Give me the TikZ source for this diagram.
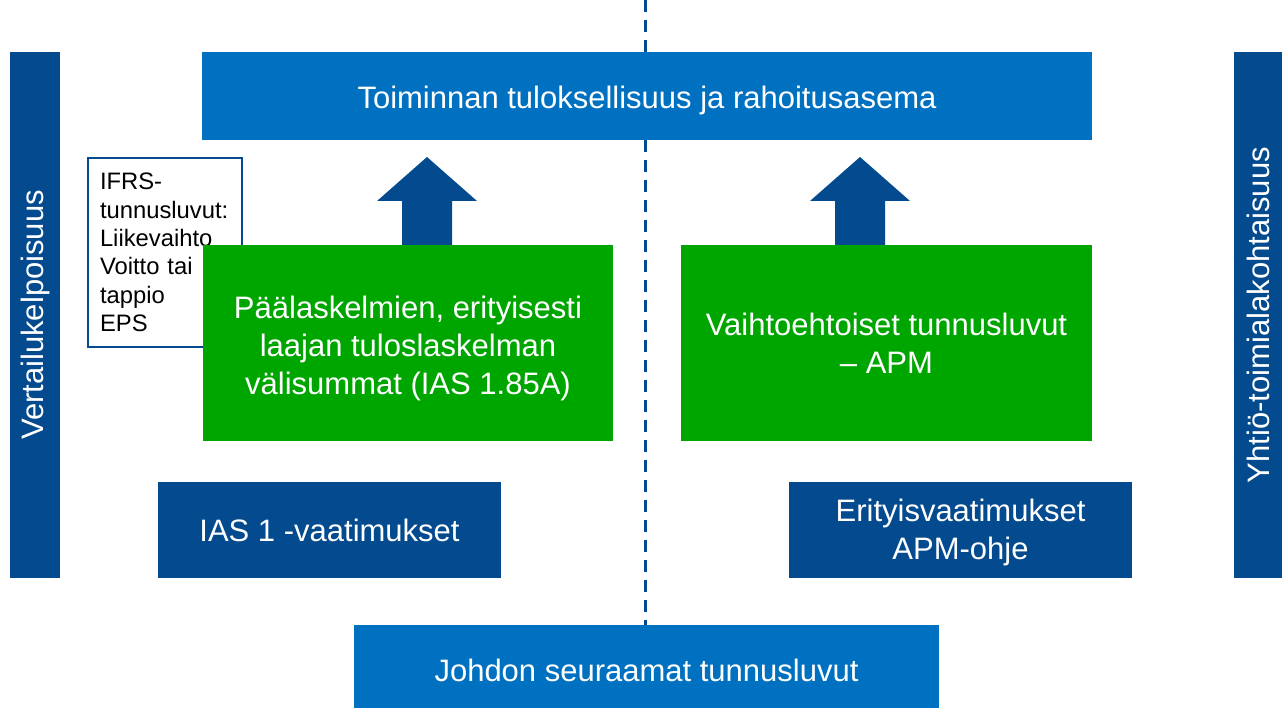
\documentclass[tikz,border=0pt]{standalone}
\usepackage{fontspec}
\setmainfont{Liberation Sans}
\usepackage{xcolor}
\usetikzlibrary{arrows.meta, positioning}

\definecolor{midblue}{HTML}{0070C0}
\definecolor{darkblue}{HTML}{034A8E}
\definecolor{boxgreen}{HTML}{00A600}

\begin{document}
\begin{tikzpicture}[x=1pt, y=-1pt,
  bigtext/.style={font=\fontsize{31}{38}\selectfont},
  panel/.style={inner sep=0pt, text=white, align=center, bigtext},
  oneline/.style={text height=31},
  sidebar/.style={panel, fill=darkblue, minimum width=526, minimum height=50, rotate=90, text height=24},
  ifrsbox/.style={draw=darkblue, line width=2pt, fill=white, align=left,
    text width=130, minimum height=189, inner xsep=12, anchor=north west,
    font=\fontsize{23.8}{28.4}\selectfont}]

  \useasboundingbox (0,0) rectangle (1282,708);

  % 1. Katkoviiva keskellä
  \draw[darkblue, line width=3pt, dash pattern=on 12pt off 8pt] (645,0) -- (645,625);

  % 2. Reunapalkit
  \node[sidebar] (vert) at (35,315) {Vertailukelpoisuus};
  \node[sidebar, minimum height=48] (yht) at (1258,315) {Yhtiö-toimialakohtaisuus};

  % 3. Yläpalkki ja alapalkki
  \node[panel, oneline, fill=midblue, minimum width=890, minimum height=88] (top) at (647,96)
    {Toiminnan tuloksellisuus ja rahoitusasema};
  \node[panel, oneline, fill=midblue, minimum width=585, minimum height=83] (johto) at (646.5,666.5)
    {Johdon seuraamat tunnusluvut};

  % 4. IFRS-laatikko (jää vihreän alle)
  \node[ifrsbox] (ifrs) at (87,157)
    {IFRS-\\tunnusluvut:\\Liikevaihto\\Voitto tai\\tappio\\EPS};

  % 5. Vihreät laatikot
  \node[panel, fill=boxgreen, minimum width=410, minimum height=196, text height=109] (paa) at (408,343)
    {Päälaskelmien, erityisesti\\laajan tuloslaskelman\\välisummat (IAS 1.85A)};
  \node[panel, fill=boxgreen, minimum width=411, minimum height=196] (apm) at (886.5,343)
    {Vaihtoehtoiset tunnusluvut\\– APM};

  % 6. Nuolet ylöspäin
  \fill[darkblue] (402,245) -- (402,201) -- (377,201) -- (427,157) -- (477,201)
    -- (452,201) -- (452,245) -- cycle;
  \fill[darkblue] (835,245) -- (835,201) -- (810,201) -- (860,157) -- (910,201)
    -- (885,201) -- (885,245) -- cycle;

  % 7. Vaatimuslaatikot
  \node[panel, fill=darkblue, minimum width=343, minimum height=96, text height=23] (ias) at (329.5,530)
    {IAS 1 -vaatimukset};
  \node[panel, fill=darkblue, minimum width=343, minimum height=96, text height=66] (erit) at (960.5,530)
    {Erityisvaatimukset\\APM-ohje};

\end{tikzpicture}
\end{document}
